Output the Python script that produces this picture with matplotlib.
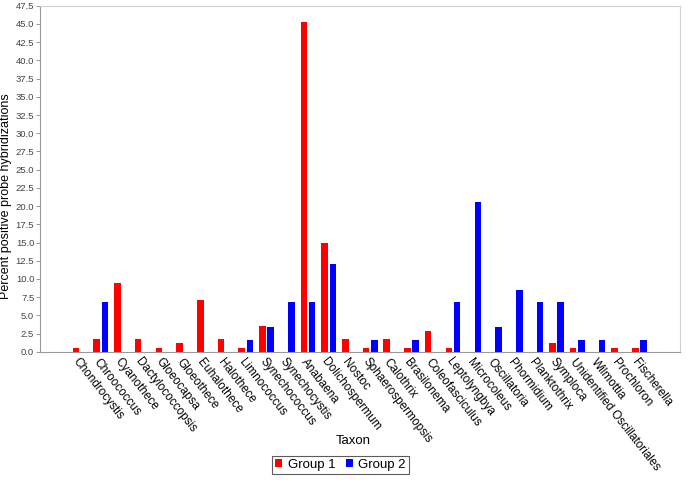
import numpy as np
import matplotlib.pyplot as plt

plt.rcParams['font.family'] = ['Liberation Sans', 'DejaVu Sans']

# Data
taxa = ['Chondrocystis', 'Chroococcus', 'Cyanothece', 'Dactylococcopsis',
        'Gloeocapsa', 'Gloeothece', 'Euhalothece', 'Halothece', 'Limnococcus',
        'Synechococcus', 'Synechocystis', 'Anabaena', 'Dolichospermum',
        'Nostoc', 'Sphaerospermopsis', 'Calothrix', 'Brasilonema',
        'Coleofasciculus', 'Leptolyngbya', 'Microcoleus', 'Oscillatoria',
        'Phormidium', 'Planktothrix', 'Symploca',
        'Unidentified Oscillatoriales', 'Wilmottia', 'Prochloron',
        'Fischerella']
group1 = [0.55, 1.7, 9.4, 1.7, 0.55, 1.15, 7.05, 1.7, 0.55, 3.55, 0.0, 45.3,
          14.9, 1.7, 0.55, 1.7, 0.55, 2.85, 0.55, 0.0, 0.0, 0.0, 0.0, 1.15,
          0.55, 0.0, 0.55, 0.55]
group2 = [0.0, 6.8, 0.0, 0.0, 0.0, 0.0, 0.0, 0.0, 1.65, 3.35, 6.8, 6.8, 12.0,
          0.0, 1.65, 0.0, 1.65, 0.0, 6.8, 20.6, 3.35, 8.5, 6.8, 6.8, 1.65,
          1.65, 0.0, 1.65]
yticks = np.arange(0, 47.6, 2.5)

fig = plt.figure(figsize=(6.86, 4.8), dpi=100)
ax = fig.add_axes([0.058, 0.267, 0.933, 0.721])

x = np.arange(len(taxa))
w = 0.32
off = 0.2
ax.bar(x - off, group1, w, color='#ff0000', label='Group 1')
ax.bar(x + off, group2, w, color='#0000ff', label='Group 2')

ax.set_xlim(-1.95, 28.95)
ax.set_ylim(0, 47.5)
ax.set_yticks(yticks)
ax.set_yticklabels(['%.1f' % v for v in yticks], fontsize=6.8, color='#444444')
ax.tick_params(axis='y', length=3, width=0.6, color='#888888', pad=1)

ax.set_xticks(x)
ax.set_xticklabels(taxa, rotation=-52, ha='left', va='top',
                   rotation_mode='anchor', fontsize=8.5)
ax.tick_params(axis='x', length=0, pad=3)

for s in ['top', 'right']:
    ax.spines[s].set_color('#d0d0d0')
for s in ['left', 'bottom']:
    ax.spines[s].set_color('#999999')
for s in ax.spines.values():
    s.set_linewidth(0.8)

ax.set_ylabel('Percent positive probe hybridizations', fontsize=9)
ax.yaxis.set_label_coords(-0.043, 0.45)
ax.set_xlabel('Taxon', fontsize=9.5)
ax.xaxis.set_label_coords(0.49, -0.24)

leg = ax.legend(loc='upper center', bbox_to_anchor=(0.47, -0.3), ncol=2,
                fontsize=9.5, frameon=True, fancybox=False, handlelength=0.55,
                handleheight=0.55, handletextpad=0.4, columnspacing=0.8,
                borderpad=0.25, borderaxespad=0)
leg.get_frame().set_edgecolor('#333333')
leg.get_frame().set_linewidth(0.8)

fig.savefig('out.png', dpi=100)
